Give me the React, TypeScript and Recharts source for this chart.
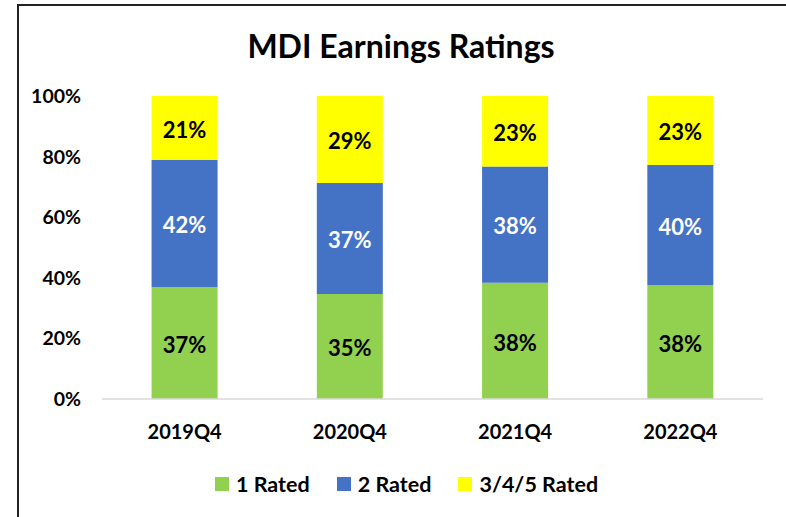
import React from "react";
import { BarChart, Bar, XAxis, YAxis, LabelList } from "recharts";

const quarters = ["2019Q4", "2020Q4", "2021Q4", "2022Q4"];
const rated1 = [37, 35, 38, 38];
const rated2 = [42, 37, 38, 40];
const rated345 = [21, 29, 23, 23];
const yTicks = [0, 0.2, 0.4, 0.6, 0.8, 1];

const series = [
  { key: "r1", name: "1 Rated", color: "#92D050", text: "#000" },
  { key: "r2", name: "2 Rated", color: "#4472C4", text: "#fff" },
  { key: "r3", name: "3/4/5 Rated", color: "#FFFF00", text: "#000" },
];

const data = quarters.map((q, i) => ({ q, r1: rated1[i], r2: rated2[i], r3: rated345[i] }));

const font = "Lato, 'Open Sans', sans-serif";

export default function App() {
  return (
    <div style={{ position: "absolute", left: 0, top: 0, width: 786, height: 517, overflow: "hidden", background: "#fff", fontFamily: font }}>
      <div style={{ position: "absolute", left: 17, top: 4, width: 900, height: 700, borderTop: "2px solid #222", borderLeft: "2px solid #222" }} />
      <div style={{ position: "absolute", left: 8, top: 30, width: 786, textAlign: "center", fontSize: 32, lineHeight: "32px", fontWeight: 700, color: "#000" }}>
        MDI Earnings Ratings
      </div>
      <BarChart
        width={786}
        height={517}
        data={data}
        stackOffset="expand"
        barCategoryGap="30%"
        margin={{ top: 96, right: 23, bottom: 88, left: 0 }}
        style={{ position: "absolute", left: 0, top: 0 }}
      >
        <XAxis
          dataKey="q"
          height={30}
          axisLine={{ stroke: "#d9d9d9", strokeWidth: 1.5 }}
          tickLine={false}
          tickSize={0}
          tickMargin={26}
          tick={{ fill: "#000", fontSize: 20, fontWeight: 700, fontFamily: font }}
        />
        <YAxis
          width={102}
          domain={[0, 1]}
          ticks={yTicks}
          axisLine={false}
          tickLine={false}
          tickSize={0}
          tickMargin={21}
          tickFormatter={(v: number) => `${Math.round(v * 100)}%`}
          tick={{ fill: "#000", fontSize: 19.5, fontWeight: 700, fontFamily: font }}
        />
        {series.map((s) => (
          <Bar key={s.key} dataKey={s.key} name={s.name} stackId="a" fill={s.color} isAnimationActive={false}>
            <LabelList
              dataKey={s.key}
              position="center"
              offset={0}
              formatter={(v: number) => `${v}%`}
              style={{ fill: s.text, fontSize: 22, fontWeight: 700, fontFamily: font, transform: "translateY(2px)" }}
            />
          </Bar>
        ))}
      </BarChart>
      <div style={{ position: "absolute", left: 215, top: 471, display: "flex", alignItems: "center", fontSize: 21.5, fontWeight: 700, color: "#000" }}>
        {series.map((s) => (
          <div key={s.key} style={{ display: "flex", alignItems: "center", marginRight: 27 }}>
            <span style={{ width: 14, height: 14, background: s.color, display: "inline-block", marginRight: 7 }} />
            <span>{s.name}</span>
          </div>
        ))}
      </div>
    </div>
  );
}
